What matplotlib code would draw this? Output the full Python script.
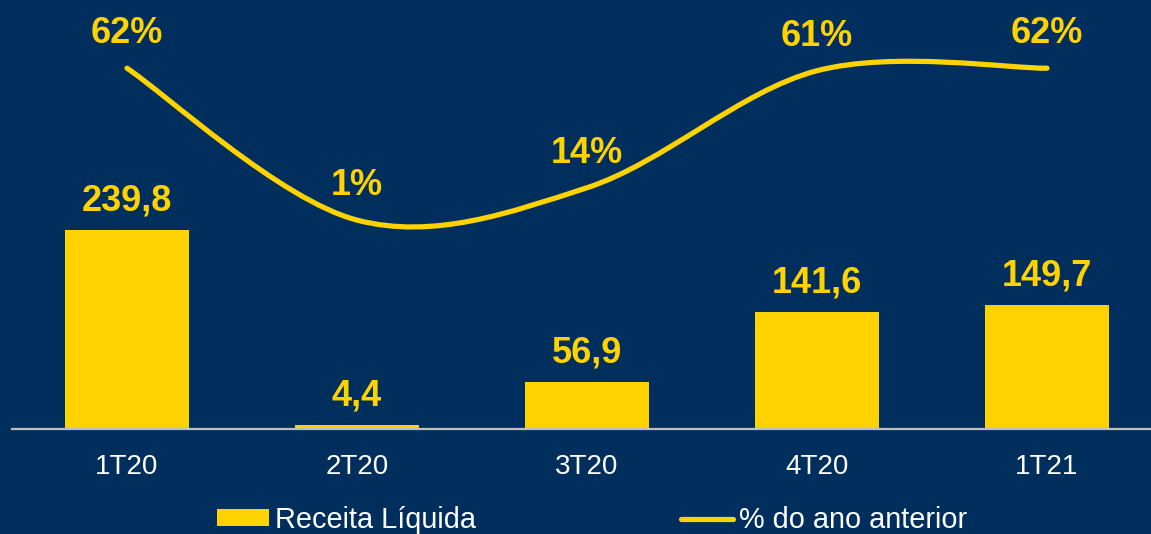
import matplotlib
matplotlib.use('Agg')
import matplotlib.pyplot as plt
from matplotlib.path import Path
from matplotlib.patches import PathPatch, Patch
from matplotlib.lines import Line2D

# data
quarters = ['1T20', '2T20', '3T20', '4T20', '1T21']
receita = [239.8, 4.4, 56.9, 141.6, 149.7]
receita_labels = ['239,8', '4,4', '56,9', '141,6', '149,7']
pct_ano_anterior = [62, 1, 14, 61, 62]

BG = '#002F5E'
YELLOW = '#FFD200'
plt.rcParams['font.family'] = ['Liberation Sans', 'DejaVu Sans']

fig = plt.figure(figsize=(11.51, 5.34), dpi=100, facecolor=BG)
ax = fig.add_axes([12 / 1151, 105 / 534, 1139 / 1151, 429 / 534])
ax.set_facecolor(BG)

x = list(range(len(quarters)))
ax.bar(x, receita, width=0.54, color=YELLOW, zorder=2)
for xi, v, lab in zip(x, receita, receita_labels):
    ax.annotate(lab, (xi, v), xytext=(0, 14), textcoords='offset points',
                ha='center', va='baseline', color=YELLOW, fontsize=26,
                fontweight='bold')

ax.set_xlim(-0.5, 4.452)
ax.set_ylim(0, 517)
ax.set_xticks(x)
ax.set_xticklabels(quarters, color='white', fontsize=20)
ax.tick_params(axis='x', length=0, pad=18)
ax.set_yticks([])
for s in ['top', 'left', 'right']:
    ax.spines[s].set_visible(False)
ax.spines['bottom'].set_color('#BFBFBF')
ax.spines['bottom'].set_linewidth(1.6)

# secondary axis for the smoothed % line
ax2 = ax.twinx()
ax2.set_ylim(-82.9, 89.4)
ax2.set_yticks([])
ax2.axis('off')

# Catmull-Rom -> cubic Bezier segments for a smooth line through the points
pts = list(zip(x, pct_ano_anterior))
verts = [pts[0]]
codes = [Path.MOVETO]
for i in range(len(pts) - 1):
    p0 = pts[i - 1] if i > 0 else pts[i]
    p1 = pts[i]
    p2 = pts[i + 1]
    p3 = pts[i + 2] if i + 2 < len(pts) else pts[i + 1]
    c1 = (p1[0] + (p2[0] - p0[0]) / 6, p1[1] + (p2[1] - p0[1]) / 6)
    c2 = (p2[0] - (p3[0] - p1[0]) / 6, p2[1] - (p3[1] - p1[1]) / 6)
    verts += [c1, c2, p2]
    codes += [Path.CURVE4] * 3
curve = PathPatch(Path(verts, codes), facecolor='none', edgecolor=YELLOW,
                  lw=3.75, capstyle='round', zorder=3)
ax2.add_patch(curve)

for xi, v in zip(x, pct_ano_anterior):
    ax2.annotate(f'{v}%', (xi, v), xytext=(0, 18), textcoords='offset points',
                 ha='center', va='baseline', color=YELLOW, fontsize=26,
                 fontweight='bold')

handles = [Patch(facecolor=YELLOW, edgecolor='none'),
           Line2D([], [], color=YELLOW, lw=3.75, solid_capstyle='round')]
fig.legend(handles, ['Receita Líquida', '% do ano anterior'],
           loc='center left', bbox_to_anchor=(217 / 1151, 14 / 534),
           ncol=2, frameon=False, fontsize=20.8, labelcolor='white',
           handlelength=1.8, handleheight=0.52, handletextpad=0.2,
           columnspacing=7.1, borderpad=0, borderaxespad=0)

fig.savefig('out.png', dpi=100, facecolor=BG)
